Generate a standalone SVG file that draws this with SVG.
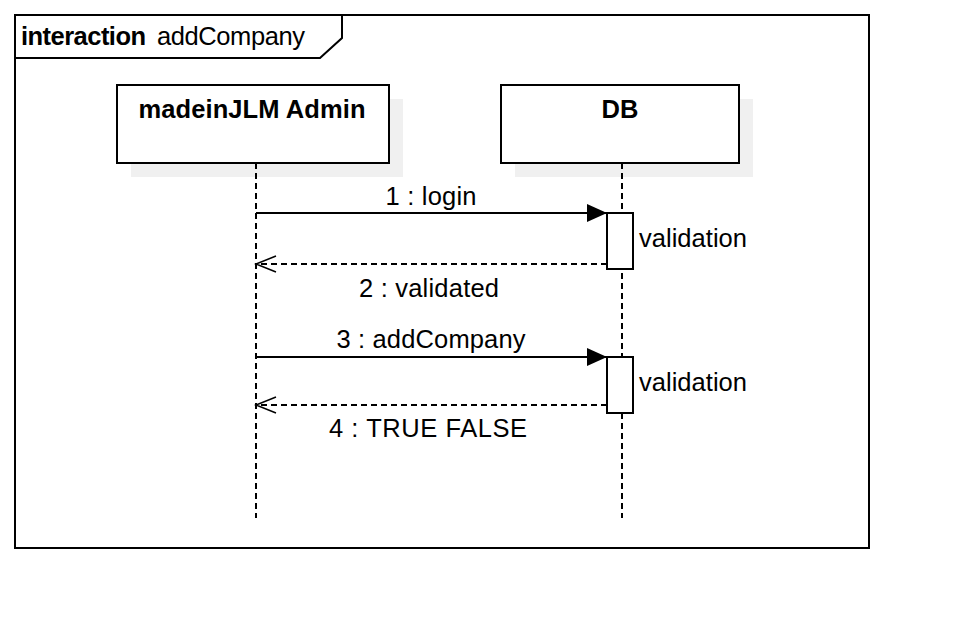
<svg xmlns="http://www.w3.org/2000/svg" width="954" height="634" viewBox="0 0 954 634">
<style>
  .frame { fill: #ffffff; stroke: #000000; stroke-width: 2; }
  .box { fill: #ffffff; stroke: #000000; stroke-width: 2; }
  .shadow { fill: #f0f0f0; stroke: none; }
  .life { stroke: #000000; stroke-width: 2; stroke-dasharray: 6 4; fill: none; }
  .msg { stroke: #000000; stroke-width: 2; fill: none; }
  .reply { stroke: #000000; stroke-width: 2; fill: none; stroke-dasharray: 6 4; }
  .act { fill: #ffffff; stroke: #000000; stroke-width: 2; }
  text { font-family: "Liberation Sans", Arial, sans-serif; fill: #000000; }
  .title { font-size: 25.5px; font-weight: bold; text-anchor: middle; }
  .lbl { font-size: 25.5px; }
  .mid { text-anchor: middle; }
</style>
<defs>
  <marker id="filled" markerWidth="22" markerHeight="20" refX="20" refY="9" orient="auto" markerUnits="userSpaceOnUse">
    <path d="M0,0 L20,9 L0,18 Z" fill="#000000"/>
  </marker>
  <marker id="open" markerWidth="24" markerHeight="20" refX="21" refY="9" orient="auto" markerUnits="userSpaceOnUse">
    <path d="M1,1 L21,9 L1,17" fill="none" stroke="#000000" stroke-width="1.5"/>
  </marker>
</defs>
<rect x="0" y="0" width="954" height="634" fill="#ffffff"/>
<g id="frame">
  <rect class="frame" x="15" y="15" width="854" height="533"/>
  <path d="M15,58 L320,58 L342,38 L342,15" fill="none" stroke="#000000" stroke-width="2"/>
  <text class="lbl" x="21" y="45"><tspan font-weight="bold" textLength="125">interaction</tspan><tspan x="157" textLength="148">addCompany</tspan></text>
</g>
<g id="admin">
  <rect class="shadow" x="131" y="99" width="272" height="78"/>
  <rect class="box" x="117" y="85" width="272" height="78"/>
  <text class="title" x="252" y="118" textLength="227">madeinJLM Admin</text>
</g>
<g id="db">
  <rect class="shadow" x="515" y="99" width="238" height="78"/>
  <rect class="box" x="501" y="85" width="238" height="78"/>
  <text class="title" x="620" y="118">DB</text>
</g>
<g id="connectors">
  <line class="life" x1="256" y1="163" x2="256" y2="518"/>
  <line class="life" x1="622" y1="163" x2="622" y2="518"/>
  <line class="msg" x1="256" y1="213" x2="607" y2="213" marker-end="url(#filled)"/>
  <line class="reply" x1="607" y1="264" x2="256" y2="264" marker-end="url(#open)"/>
  <line class="msg" x1="256" y1="357" x2="607" y2="357" marker-end="url(#filled)"/>
  <line class="reply" x1="607" y1="405" x2="256" y2="405" marker-end="url(#open)"/>
  <text class="lbl mid" x="431" y="205" textLength="91">1 : login</text>
  <text class="lbl mid" x="429" y="297" textLength="140">2 : validated</text>
  <text class="lbl mid" x="431" y="348" textLength="189">3 : addCompany</text>
  <text class="lbl mid" x="428" y="437" textLength="198">4 : TRUE FALSE</text>
</g>
<g id="activation1">
  <rect class="act" x="607" y="213" width="26" height="56"/>
  <text class="lbl" x="639" y="247" textLength="108">validation</text>
</g>
<g id="activation2">
  <rect class="act" x="607" y="357" width="26" height="56"/>
  <text class="lbl" x="639" y="391" textLength="108">validation</text>
</g>
</svg>
